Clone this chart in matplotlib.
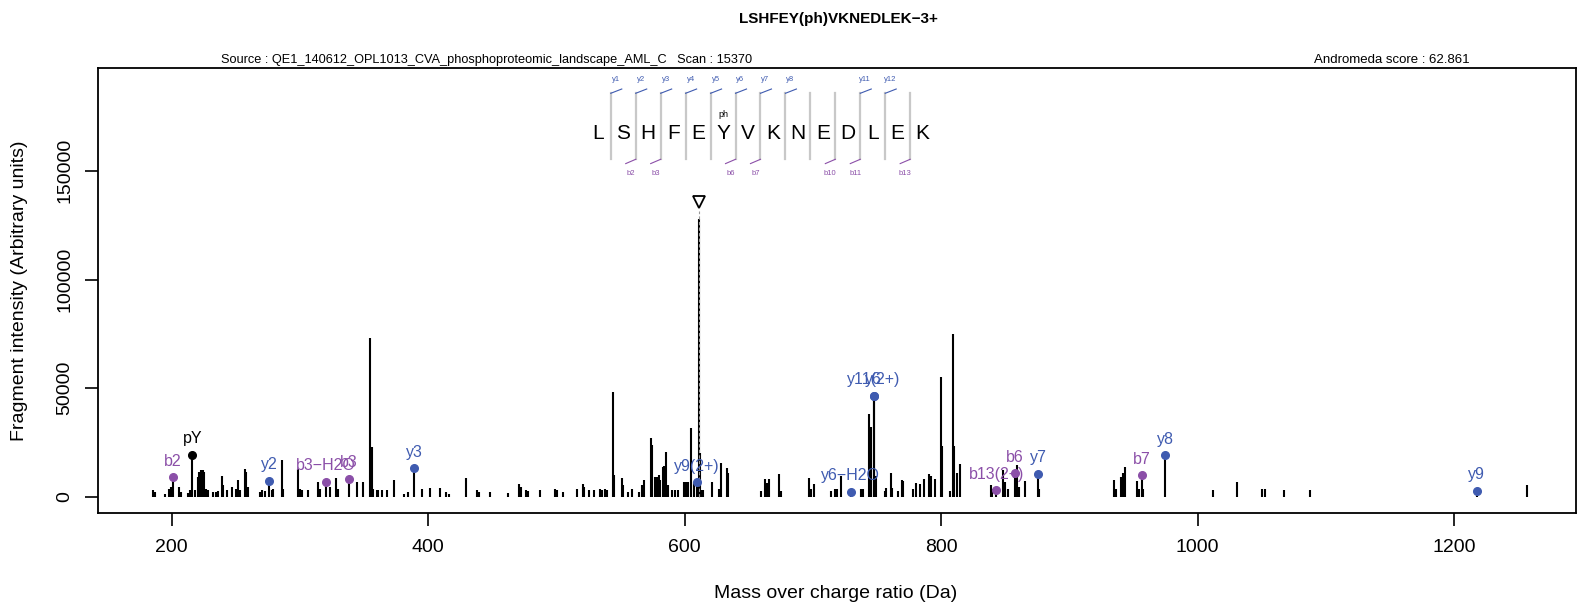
import numpy as np
import matplotlib
matplotlib.use("Agg")
import matplotlib.pyplot as plt

plt.rcParams['font.family'] = ['Liberation Sans', 'DejaVu Sans']

# unannotated fragment peaks (m/z, intensity)
peak_mz = [185.2, 187.0, 194.5, 198.0, 199.0, 199.8, 205.8, 207.6, 212.8, 214.0,
           218.2, 220.3, 221.3, 222.6, 224.2, 225.2, 226.8, 228.1, 232.5, 234.6,
           236.4, 239.5, 240.3, 242.9, 246.8, 250.2, 251.5, 253.3, 257.2, 258.3,
           259.8, 269.0, 270.7, 272.7, 278.0, 279.3, 285.8, 286.6, 298.7, 300.0,
           301.3, 306.5, 314.3, 315.6, 323.4, 328.1, 329.4, 344.1, 349.3, 355.0,
           355.9, 357.1, 359.7, 361.0, 364.2, 367.5, 373.6, 381.4, 384.0, 395.0,
           401.6, 409.4, 414.0, 416.0, 429.5, 438.0, 439.5, 448.0, 462.5, 471.0,
           472.0, 476.0, 478.0, 487.0, 499.0, 500.3, 505.0, 516.0, 520.5, 521.8,
           525.0, 529.3, 534.0, 535.3, 538.0, 539.3, 544.2, 545.2, 551.0, 551.8,
           556.0, 559.0, 564.5, 566.6, 568.4, 573.7, 574.4, 577.0, 578.4, 579.7,
           580.9, 583.0, 584.0, 585.6, 586.9, 590.0, 592.6, 594.4, 599.5, 600.8,
           602.8, 605.3, 607.0, 611.0, 612.0, 612.8, 614.0, 621.4, 627.0, 628.6,
           632.8, 634.0, 659.2, 662.6, 663.9, 666.0, 673.8, 674.8, 697.2, 698.5,
           700.8, 713.8, 717.2, 718.5, 721.6, 737.3, 739.3, 744.0, 745.3, 748.9,
           756.0, 757.3, 760.6, 762.0, 766.6, 769.2, 770.5, 778.3, 780.1, 783.5,
           786.6, 790.8, 791.8, 795.2, 799.6, 800.9, 806.9, 809.2, 810.3, 812.6,
           814.7, 838.7, 840.0, 848.0, 849.8, 852.4, 859.5, 861.0, 865.4, 876.6,
           934.8, 936.4, 940.0, 941.6, 943.4, 952.5, 954.5, 957.5, 1012.3, 1030.5,
           1050.0, 1052.6, 1067.4, 1087.7, 1256.6]
peak_int = [3000, 2300, 1500, 3500, 3000, 4500, 4600, 2300, 2000, 3000,
            3000, 9200, 11500, 12300, 12300, 11500, 3800, 3000, 2300, 2300,
            2600, 9700, 5400, 3000, 4600, 3800, 7700, 3000, 13000, 11500,
            4600, 2300, 3000, 2600, 3000, 3800, 16900, 3800, 13000, 3800,
            3000, 3000, 6900, 3800, 4600, 8500, 3800, 6900, 6900, 73000,
            23000, 3800, 3000, 3000, 3000, 3000, 7700, 1500, 2300, 3800,
            4000, 4000, 2300, 1500, 8500, 3000, 2300, 2300, 2000, 6100,
            4600, 3000, 2700, 3000, 3800, 3000, 2300, 3800, 6100, 4600,
            3000, 3000, 3800, 3400, 3800, 3400, 48400, 10000, 8500, 5400,
            2300, 3800, 2300, 5400, 7700, 27200, 23800, 9200, 9200, 10000,
            7700, 13800, 14300, 20700, 5400, 3000, 3000, 3000, 6900, 6900,
            6900, 31800, 7000, 128000, 20000, 3000, 3000, 6900, 3800, 15400,
            13400, 11000, 2800, 8100, 6500, 8100, 10400, 2800, 8500, 3500,
            5800, 2800, 3800, 3500, 9700, 3500, 3500, 38100, 32000, 9700,
            2800, 4300, 10900, 4300, 2800, 7800, 7400, 3500, 6600, 5800,
            8100, 10400, 9700, 8100, 55000, 23500, 2800, 75000, 23500, 11200,
            15000, 5400, 3800, 12300, 6900, 3800, 14600, 4600, 7200, 3800,
            8000, 3800, 9200, 10800, 13800, 7200, 3800, 3800, 3000, 6900,
            3500, 3500, 3100, 3400, 5600]

# annotated fragment ions
ion_labels = ['b2', 'pY', 'y2', 'b3\u2212H2O', 'b3', 'y3', 'y9(2+)', 'y6\u2212H2O',
              'y11(2+)', 'y6', 'b13(2+)', 'b6', 'y7', 'b7', 'y8', 'y9']
ion_mz = [201.12, 216.04, 276.16, 320.17, 338.18, 389.24, 609.28, 729.34,
          747.33, 747.35, 842.87, 857.32, 875.45, 956.39, 974.52, 1217.55]
ion_int = [9000, 19500, 7500, 7000, 8300, 13200, 6700, 2400,
           46500, 46500, 3000, 10800, 10700, 9900, 19300, 2800]
ion_type = ['b', 'k', 'y', 'b', 'b', 'y', 'y', 'y',
            'y', 'y', 'b', 'b', 'y', 'b', 'y', 'y']

precursor_mz = 610.95
precursor_mark = 135500

sequence = list('LSHFEYVKNEDLEK')
y_cov = [1, 2, 3, 4, 5, 6, 7, 8, 11, 12]
b_cov = [2, 3, 6, 7, 10, 11, 13]

col = {'b': '#8B4FA8', 'y': '#3F5BB0', 'k': 'black'}

W, H = 1578, 611
fig = plt.figure(figsize=(W / 100, H / 100), dpi=100)
ax = fig.add_axes([97.7 / W, (H - 513) / H, (1576 - 97.7) / W, (513 - 68) / H])


def px(x, y):
    return x / W, 1 - y / H


ax.vlines(peak_mz, 0, peak_int, color='black', lw=1.5)
ax.vlines(ion_mz, 0, ion_int, color='black', lw=1.5)
ax.vlines([precursor_mz], 0, [precursor_mark - 4000], color='#999999',
          lw=0.8, linestyles=(0, (3, 2)))
ax.plot([precursor_mz], [precursor_mark], marker='v', ms=9, mfc='white',
        mec='black', mew=1.3, ls='none')

for lab, m, i, t in zip(ion_labels, ion_mz, ion_int, ion_type):
    ax.plot(m, i, 'o', color=col[t], ms=5.5)
    ax.annotate(lab, (m, i), xytext=(0, 16), textcoords='offset pixels',
                ha='center', va='center', fontsize=11.5, color=col[t])

ax.set_xlim(142.3, 1295)
ax.set_ylim(-7370, 197300)
ax.set_xticks([200, 400, 600, 800, 1000, 1200])
ax.set_yticks([0, 50000, 100000, 150000])
ax.set_yticklabels(['0', '50000', '100000', '150000'], rotation=90, va='center')
ax.tick_params(labelsize=14, length=9.4, width=1.2)
ax.tick_params(axis='x', pad=9.5)
ax.tick_params(axis='y', pad=8)
for s in ax.spines.values():
    s.set_linewidth(1.3)
fig.text(*px(836, 594), 'Mass over charge ratio (Da)', fontsize=14,
         ha='center', va='center')
fig.text(*px(20, 290.5), 'Fragment intensity (Arbitrary units)', fontsize=14,
         ha='center', va='center', rotation=90)

# sequence coverage drawing
x0, step = 598.3, 24.95
for k, aa in enumerate(sequence):
    fig.text(*px(x0 + k * step, 133.3), aa, fontsize=15, ha='center', va='center')
fig.text(*px(723.3, 114.3), 'ph', fontsize=6.5, ha='center', va='center')
for k in range(1, len(sequence)):
    sx = x0 + (k - 0.5) * step
    fig.add_artist(plt.Line2D(*zip(px(sx, 93.3), px(sx, 159.3)),
                              color='#C8C8C8', lw=1.6))
    if k in y_cov:
        fig.add_artist(plt.Line2D(*zip(px(sx, 93.3), px(sx + 11, 89)),
                                  color=col['y'], lw=0.8))
        fig.text(*px(sx + 5, 79.3), 'y%d' % k, fontsize=5.5, color=col['y'],
                 ha='center', va='center')
    if k in b_cov:
        fig.add_artist(plt.Line2D(*zip(px(sx, 159.3), px(sx - 10, 163.6)),
                                  color=col['b'], lw=0.8))
        fig.text(*px(sx - 5, 173.3), 'b%d' % k, fontsize=5.5, color=col['b'],
                 ha='center', va='center')

fig.text(*px(838, 19), 'LSHFEY(ph)VKNEDLEK\u22123+', fontsize=11,
         fontweight='bold', ha='center', va='center')
fig.text(*px(221, 60), 'Source : QE1_140612_OPL1013_CVA_phosphoproteomic_landscape_AML_C   Scan : 15370',
         fontsize=9.2, ha='left', va='center')
fig.text(*px(1470, 60), 'Andromeda score : 62.861', fontsize=9.5,
         ha='right', va='center')

fig.savefig('out.png', dpi=100)
